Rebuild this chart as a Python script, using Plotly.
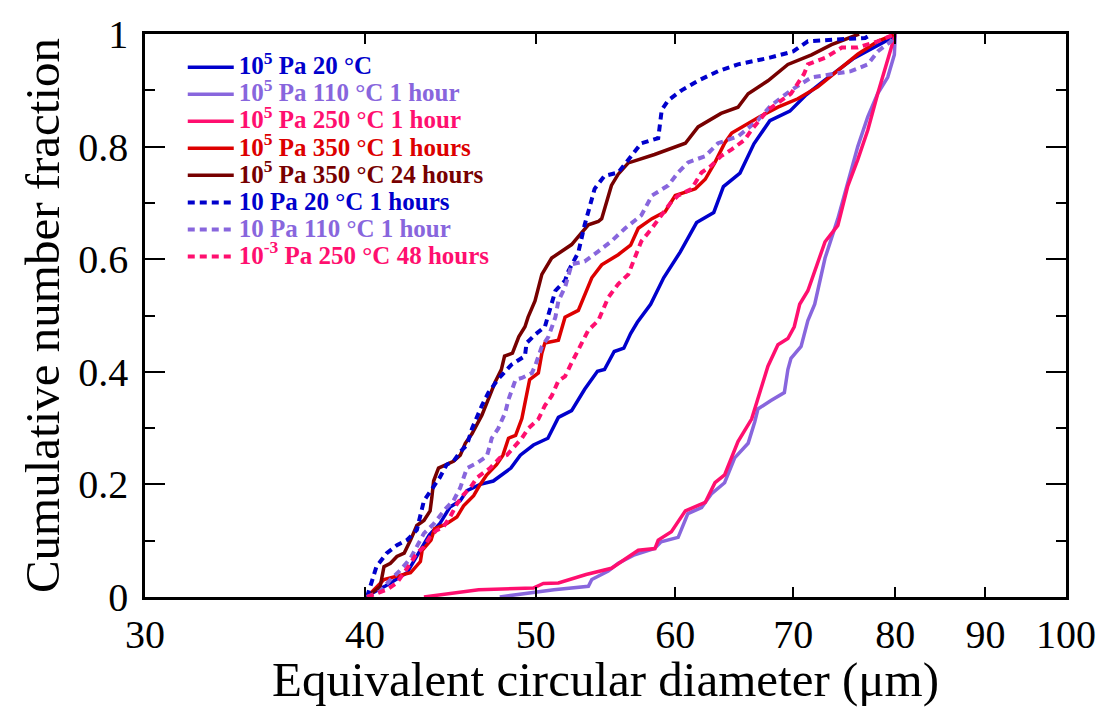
import plotly.graph_objects as go

# ---------------- data (equivalent circular diameter in um, cumulative fraction) ----------------
a_x = [40.0, 41.1, 42.25, 43.0, 43.5, 44.1, 44.7, 45.3, 45.7, 46.5, 47.3, 48.4, 49.0, 49.85, 50.8, 51.5,
       52.4, 53.3, 54.2, 54.7, 55.4, 56.1, 56.6, 57.1, 58.1, 59.1, 60.4, 61.7, 63.1, 63.9, 65.3, 66.5,
       67.9, 69.7, 71.2, 72.8, 75.7, 79.4, 80.0]
a_y = [0.0, 0.02, 0.043, 0.083, 0.11, 0.13, 0.16, 0.171, 0.189, 0.2, 0.206, 0.229, 0.252, 0.27, 0.282, 0.319,
       0.331, 0.369, 0.401, 0.404, 0.436, 0.442, 0.468, 0.488, 0.52, 0.567, 0.613, 0.665, 0.683, 0.729, 0.753, 0.805,
       0.846, 0.863, 0.892, 0.916, 0.956, 0.991, 1.0]

b_x = [47.7, 50.3, 51.2, 53.56, 53.8, 54.97, 55.7, 56.9, 58.4, 58.9, 60.23, 61.0, 62.1, 62.9, 64.0, 64.85,
       66.0, 66.57, 66.85, 68.0, 69.2, 69.52, 69.8, 70.73, 71.36, 72.0, 72.98, 74.21, 75.18, 76.17, 77.17,
       78.18, 79.21, 79.9, 80.0]
b_y = [0.0, 0.010, 0.013, 0.019, 0.031, 0.046, 0.060, 0.075, 0.086, 0.098, 0.106, 0.148, 0.159, 0.183, 0.203, 0.247,
       0.273, 0.311, 0.334, 0.349, 0.363, 0.404, 0.424, 0.445, 0.491, 0.520, 0.602, 0.672, 0.736, 0.800, 0.853,
       0.894, 0.923, 0.963, 1.0]

c_x = [43.2, 46.4, 49.84, 50.5, 51.5, 53.4, 55.2, 57.17, 58.43, 58.68, 59.7, 60.8, 62.4, 63.2, 64.0, 65.13,
       66.3, 66.85, 67.73, 68.62, 69.52, 70.1, 70.6, 71.36, 72.98, 74.21, 75.18, 76.17, 77.17, 78.18, 79.21, 80.0]
c_y = [0.0, 0.013, 0.016, 0.024, 0.025, 0.040, 0.051, 0.083, 0.086, 0.101, 0.116, 0.153, 0.168, 0.203, 0.217, 0.276,
       0.316, 0.351, 0.410, 0.448, 0.459, 0.480, 0.520, 0.544, 0.631, 0.660, 0.730, 0.777, 0.829, 0.894, 0.952, 1.0]

d_x = [40.1, 41.0, 41.7, 42.45, 43.0, 43.1, 43.6, 43.8, 44.5, 45.1, 45.5, 46.1, 46.5, 46.9, 47.5, 47.9,
       48.25, 48.7, 49.1, 49.3, 49.5, 49.6, 50.17, 50.4, 50.6, 51.5, 51.95, 52.86, 53.8, 54.5, 55.69, 56.6,
       57.17, 58.2, 59.2, 60.0, 61.6, 62.4, 63.2, 64.0, 64.6, 65.7, 67.0, 68.62, 70.43, 72.29, 74.21, 76.17,
       78.18, 80.0]
d_y = [0.0, 0.031, 0.037, 0.043, 0.063, 0.083, 0.101, 0.121, 0.130, 0.142, 0.162, 0.180, 0.200, 0.217, 0.235, 0.252,
       0.282, 0.287, 0.317, 0.346, 0.369, 0.386, 0.398, 0.433, 0.451, 0.456, 0.497, 0.509, 0.567, 0.590, 0.608, 0.625,
       0.655, 0.672, 0.684, 0.713, 0.725, 0.742, 0.772, 0.806, 0.824, 0.838, 0.853, 0.870, 0.885, 0.906, 0.935, 0.964,
       0.987, 1.0]

e_x = [40.1, 40.8, 41.0, 41.35, 41.7, 42.1, 42.45, 42.8, 43.2, 43.55, 43.65, 43.75, 44.03, 44.9, 45.3, 45.6,
       46.0, 46.6, 47.2, 47.4, 47.8, 48.0, 48.5, 48.9, 49.3, 49.5, 49.95, 50.4, 51.05, 52.4, 52.86, 53.56,
       54.26, 54.5, 55.2, 55.69, 56.43, 58.4, 60.8, 61.82, 63.7, 65.13, 66.0, 67.73, 69.52, 71.7, 73.6, 75.18,
       76.3]
e_y = [0.0, 0.019, 0.054, 0.060, 0.072, 0.078, 0.101, 0.127, 0.136, 0.153, 0.177, 0.206, 0.229, 0.241, 0.252, 0.273,
       0.290, 0.323, 0.366, 0.381, 0.404, 0.428, 0.433, 0.462, 0.480, 0.497, 0.526, 0.573, 0.602, 0.626, 0.640, 0.661,
       0.667, 0.672, 0.731, 0.751, 0.771, 0.786, 0.806, 0.835, 0.859, 0.870, 0.894, 0.917, 0.946, 0.963, 0.981, 0.993,
       1.0]

f_x = [40.1, 40.6, 41.15, 41.7, 42.25, 42.8, 43.2, 43.46, 44.1, 44.5, 44.9, 45.3, 45.7, 46.0, 46.4, 46.6,
       47.0, 47.6, 48.45, 49.3, 49.4, 49.95, 50.6, 50.83, 51.3, 51.95, 52.18, 52.86, 53.3, 54.0, 54.7, 55.69,
       56.43, 57.4, 58.68, 58.95, 59.45, 60.5, 61.82, 63.45, 65.13, 67.9, 70.0, 71.36, 73.9, 76.9, 77.6]
f_y = [0.0, 0.054, 0.078, 0.092, 0.101, 0.119, 0.171, 0.183, 0.212, 0.235, 0.241, 0.258, 0.270, 0.299, 0.328, 0.340,
       0.363, 0.387, 0.413, 0.428, 0.451, 0.466, 0.480, 0.500, 0.544, 0.562, 0.579, 0.612, 0.661, 0.725, 0.748, 0.754,
       0.777, 0.806, 0.815, 0.865, 0.882, 0.900, 0.917, 0.934, 0.946, 0.958, 0.969, 0.987, 0.990, 0.993, 1.0]

g_x = [40.1, 40.8, 41.35, 41.9, 42.45, 42.8, 43.2, 43.75, 44.5, 44.9, 45.3, 45.5, 45.7, 46.3, 46.9, 47.1,
       47.2, 47.6, 48.05, 48.25, 48.45, 48.7, 49.1, 49.75, 49.95, 50.17, 50.4, 50.83, 51.05, 51.3, 51.5, 51.95,
       52.4, 53.3, 54.26, 55.2, 56.2, 57.4, 58.2, 59.45, 60.23, 61.02, 62.4, 63.45, 65.13, 66.85, 68.0, 69.8,
       71.7, 73.9, 75.5, 77.17, 78.18, 79.55, 80.0]
g_y = [0.0, 0.010, 0.031, 0.048, 0.069, 0.089, 0.113, 0.130, 0.159, 0.171, 0.194, 0.212, 0.229, 0.238, 0.250, 0.270,
       0.282, 0.299, 0.328, 0.351, 0.369, 0.386, 0.389, 0.398, 0.410, 0.428, 0.445, 0.462, 0.480, 0.497, 0.526, 0.550,
       0.591, 0.596, 0.614, 0.632, 0.655, 0.678, 0.713, 0.731, 0.754, 0.772, 0.783, 0.806, 0.818, 0.847, 0.873, 0.900,
       0.923, 0.929, 0.934, 0.946, 0.969, 0.987, 1.0]

h_x = [40.1, 41.15, 41.7, 42.1, 42.45, 42.8, 43.2, 43.55, 43.9, 44.3, 44.7, 45.1, 45.5, 45.9, 46.3, 47.1,
       47.7, 48.15, 48.75, 49.1, 49.5, 50.17, 50.6, 51.05, 51.5, 51.95, 52.4, 53.1, 53.56, 54.26, 54.97, 55.69,
       56.43, 56.9, 57.4, 58.2, 58.95, 59.7, 60.23, 61.3, 62.1, 62.9, 63.7, 64.6, 65.7, 66.3, 67.73, 69.8,
       71.0, 71.36, 73.0, 74.6, 76.17, 78.18, 80.0]
h_y = [0.0, 0.013, 0.025, 0.043, 0.060, 0.078, 0.089, 0.107, 0.118, 0.124, 0.142, 0.165, 0.182, 0.194, 0.212, 0.229,
       0.247, 0.252, 0.270, 0.282, 0.299, 0.316, 0.340, 0.357, 0.384, 0.392, 0.416, 0.451, 0.474, 0.491, 0.532, 0.556,
       0.573, 0.602, 0.632, 0.655, 0.678, 0.702, 0.713, 0.725, 0.754, 0.766, 0.783, 0.795, 0.812, 0.830, 0.865, 0.894,
       0.929, 0.946, 0.958, 0.976, 0.976, 0.987, 1.0]

names = ["10<sup>5</sup> Pa 20 °C", "10<sup>5</sup> Pa 110 °C 1 hour", "10<sup>5</sup> Pa 250 °C 1 hour",
         "10<sup>5</sup> Pa 350 °C 1 hours", "10<sup>5</sup> Pa 350 °C 24 hours", "10 Pa 20 °C 1 hours",
         "10 Pa 110 °C 1 hour", "10<sup>-3</sup> Pa 250 °C 48 hours"]
xs = [a_x, b_x, c_x, d_x, e_x, f_x, g_x, h_x]
ys = [a_y, b_y, c_y, d_y, e_y, f_y, g_y, h_y]

colors = ["#0000cc", "#8866dd", "#ff0f6f", "#dd0000", "#770000", "#0000cc", "#8866dd", "#ff0f6f"]
dashes = ["solid"] * 5 + ["7px,5px"] * 3
widths = [3.5] * 5 + [4] * 3

SERIF = "Liberation Serif, Times New Roman, serif"

fig = go.Figure()
for i in range(8):
    fig.add_trace(go.Scatter(
        x=xs[i], y=ys[i], mode="lines",
        name=f'<span style="color:{colors[i]};font-size:25px"><b>{names[i]}</b></span>',
        line=dict(color=colors[i], width=widths[i], dash=dashes[i]),
    ))

x_ticks = [30, 40, 50, 60, 70, 80, 90, 100]
y_ticks = [0, 0.2, 0.4, 0.6, 0.8, 1]
y_tick_text = ["0", "0.2", "0.4", "0.6", "0.8", "1"]

fig.update_layout(
    width=1108, height=707,
    margin=dict(l=145, r=37, t=25, b=109),
    paper_bgcolor="white", plot_bgcolor="white",
    font=dict(family=SERIF, color="black"),
    showlegend=True,
    legend=dict(x=0.041, y=0.974, xanchor="left", yanchor="top",
                bgcolor="rgba(0,0,0,0)", borderwidth=0,
                font=dict(family=SERIF, size=18.5), itemwidth=46,
                tracegroupgap=0),
)
fig.update_xaxes(
    type="log", range=[1.4771213, 2.0],
    tickvals=x_ticks, ticktext=[str(v) for v in x_ticks],
    ticks="inside", ticklen=10, tickwidth=2, tickcolor="black",
    showline=True, linewidth=2.5, linecolor="black", mirror="allticks",
    showgrid=False, zeroline=False,
    tickfont=dict(family=SERIF, size=40),
    title=dict(text="Equivalent circular diameter (μm)", font=dict(family=SERIF, size=49), standoff=4),
)
fig.update_yaxes(
    range=[0, 1],
    tickvals=y_ticks, ticktext=y_tick_text,
    ticks="inside", ticklen=20, tickwidth=2, tickcolor="black",
    minor=dict(tickvals=[0.1, 0.3, 0.5, 0.7, 0.9], ticks="inside", ticklen=10, tickwidth=2, tickcolor="black"),
    showline=True, linewidth=2.5, linecolor="black", mirror="allticks",
    showgrid=False, zeroline=False,
    tickfont=dict(family=SERIF, size=40),
    ticklabelstandoff=6,
    title=dict(text="Cumulative number fraction", font=dict(family=SERIF, size=49), standoff=4),
)

fig.write_html("out.html")
